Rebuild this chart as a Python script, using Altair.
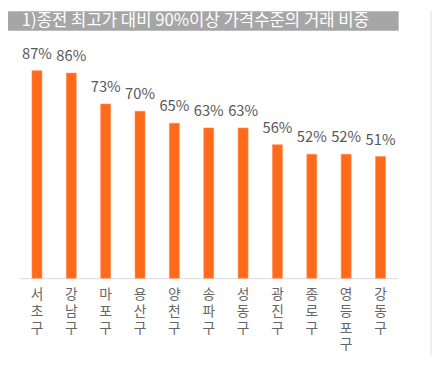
import altair as alt
import pandas as pd

districts = ["서초구", "강남구", "마포구", "용산구", "양천구", "송파구", "성동구", "광진구", "종로구", "영등포구", "강동구"]
shares = [87, 86, 73, 70, 65, 63, 63, 56, 52, 52, 51]
title_text = "1)종전 최고가 대비 90%이상 가격수준의 거래 비중"

FONT = "Noto Sans CJK KR"

df = pd.DataFrame({"district": districts, "share": shares})
df["label"] = df["share"].astype(str) + "%"
tdf = pd.DataFrame({"t": [title_text]})

x = alt.X("district:N", sort=districts, title=None,
          scale=alt.Scale(paddingInner=0.71, paddingOuter=0.355),
          axis=alt.Axis(labelAngle=0, ticks=False, domainColor="#D9D9D9", domainWidth=1,
                        labelExpr="split(datum.label, '')", labelFont=FONT, labelFontSize=14,
                        labelLineHeight=17, labelColor="#666666", labelPadding=10,
                        labelBaseline="top"))
y = alt.Y("share:Q", scale=alt.Scale(domain=[0, 100]), axis=None)

bars = alt.Chart(df).mark_bar(color="#FF6A1A", stroke="#FF8C55", strokeWidth=0.6).encode(x=x, y=y)
labels = alt.Chart(df).mark_text(font=FONT, fontSize=15, color="#595959", baseline="bottom", dy=-9).encode(
    x=alt.X("district:N", sort=districts), y=y, text="label:N")

box = alt.Chart(tdf).mark_rect(color="#A6A6A6").encode(
    x=alt.value(-12), x2=alt.value(386), y=alt.value(-29), y2=alt.value(-9))
title = alt.Chart(tdf).mark_text(font=FONT, fontSize=17, color="white", align="left", baseline="middle").encode(
    x=alt.value(2), y=alt.value(-18.5), text="t:N")
frame = alt.Chart(tdf).mark_rule(color="#E0E0E0").encode(
    x=alt.value(419), y=alt.value(-29), y2=alt.value(322))

chart = alt.layer(box, title, frame, bars, labels).properties(
    width=385, height=243,
    background="white",
    autosize=alt.AutoSizeParams(type="none"),
    padding={"left": 12, "top": 29, "right": 37, "bottom": 79},
).configure_view(strokeWidth=0)

chart.save("out.html", embed_options={"renderer": "svg", "actions": False})
